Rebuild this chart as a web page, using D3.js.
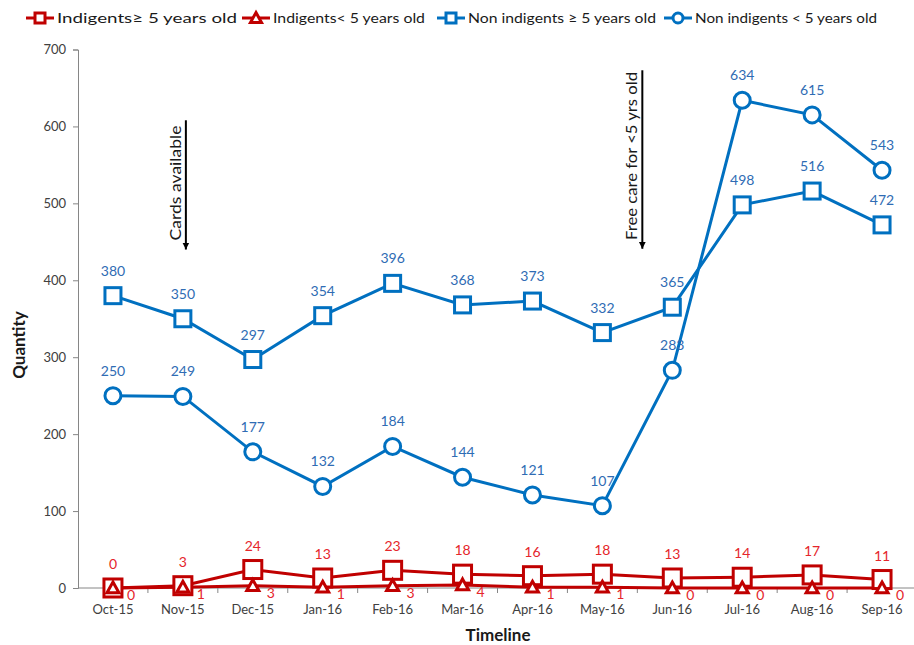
<!DOCTYPE html>
<html><head><meta charset="utf-8">
<script src="https://cdn.jsdelivr.net/npm/d3@7"></script>
<style>
body{margin:0;background:#fff;}
svg text{font-family:"Lato","Open Sans",sans-serif;}
</style></head>
<body><svg id="c" width="914" height="645"></svg>
<script>
const categories = ["Oct-15","Nov-15","Dec-15","Jan-16","Feb-16","Mar-16","Apr-16","May-16","Jun-16","Jul-16","Aug-16","Sep-16"];
const indigentsOver5 = [0,3,24,13,23,18,16,18,13,14,17,11];
const indigentsUnder5 = [0,1,3,1,3,4,1,1,0,0,0,0];
const nonIndigentsOver5 = [380,350,297,354,396,368,373,332,365,498,516,472];
const nonIndigentsUnder5 = [250,249,177,132,184,144,121,107,283,634,615,543];
const seriesNames = ["Indigents\u2265 5 years old","Indigents< 5 years old","Non indigents \u2265 5 years old","Non indigents < 5 years old"];
const yTicks = [0,100,200,300,400,500,600,700];
const annotations = [{cat:"Nov-15", text:"Cards available", from:608, to:440},{cat:"Jun-16", text:"Free care for <5 yrs old", from:673, to:441}];

const svg = d3.select("#c");
const red = "#C00000", blue = "#0070C0";
const redLbl = "#E5262B", blueLbl = "#2F6CB4";

const x = d3.scaleBand().domain(categories).range([78, 917]).padding(0);
const y = d3.scaleLinear().domain([0,700]).range([588, 49.5]);
const cx = c => x(c) + x.bandwidth()/2;

// axes
const yAxis = svg.append("g").attr("transform","translate(78,0)")
  .call(d3.axisLeft(y).tickValues(yTicks).tickSize(5).tickPadding(7));
yAxis.select(".domain").attr("stroke","#868686");
yAxis.selectAll(".tick line").attr("stroke","#868686");
yAxis.selectAll(".tick text").attr("fill","#404040").style("font-size","13px");

const xg = svg.append("g").attr("transform","translate(0,588)");
xg.append("line").attr("x1",78).attr("x2",914).attr("stroke","#868686");
xg.selectAll("line.t").data(categories.slice(1)).enter().append("line")
  .attr("x1",d=>x(d)).attr("x2",d=>x(d)).attr("y1",0).attr("y2",5).attr("stroke","#868686");
xg.selectAll("text").data(categories).enter().append("text")
  .attr("x",d=>cx(d)).attr("y",26).attr("text-anchor","middle")
  .attr("fill","#404040").style("font-size","13px").text(d=>d);

svg.append("text").attr("transform","translate(25,345) rotate(-90)").attr("text-anchor","middle")
  .style("font-size","17px").style("font-weight","bold").attr("fill","#1a1a1a").text("Quantity");
svg.append("text").attr("x",498).attr("y",641).attr("text-anchor","middle")
  .style("font-size","17px").style("font-weight","bold").attr("fill","#1a1a1a").text("Timeline");

// annotations
svg.append("defs").append("marker").attr("id","ah").attr("viewBox","0 0 10 10")
  .attr("refX",10).attr("refY",5).attr("markerWidth",7).attr("markerHeight",8)
  .attr("markerUnits","userSpaceOnUse").attr("orient","auto")
  .append("path").attr("d","M0,0L10,5L0,10z").attr("fill","#000");
const annoLen = [115, 168];
annotations.forEach((a,i)=>{
  const ax = i===0 ? cx(a.cat)+3 : x(a.cat)+5;
  svg.append("line").attr("x1",ax).attr("x2",ax).attr("y1",y(a.from)).attr("y2",y(a.to))
    .attr("stroke","#000").attr("stroke-width",2).attr("marker-end","url(#ah)");
  const mid = i===0 ? 183 : 156;
  svg.append("text").attr("transform",`translate(${ax-5},${mid}) rotate(-90)`)
    .attr("text-anchor","middle").style("font-size","15px").attr("fill","#1a1a1a")
    .attr("textLength",annoLen[i]).attr("lengthAdjust","spacingAndGlyphs").text(a.text);
});

// series
const series = [
  {vals:indigentsOver5, color:red, lbl:redLbl, shape:"square", size:18, lx:0, ly:-19},
  {vals:indigentsUnder5, color:red, lbl:redLbl, shape:"triangle", size:12, lx:18, ly:12},
  {vals:nonIndigentsOver5, color:blue, lbl:blueLbl, shape:"square", size:16, lx:0, ly:-20},
  {vals:nonIndigentsUnder5, color:blue, lbl:blueLbl, shape:"circle", size:16, lx:0, ly:-20}
];
const line = d3.line().x((d,i)=>cx(categories[i])).y(d=>y(d));
function drawMarker(g, shape, size, color){
  if(shape==="square"){
    g.append("rect").attr("x",-size/2).attr("y",-size/2).attr("width",size).attr("height",size)
      .attr("fill","#fff").attr("stroke",color).attr("stroke-width",3);
  } else if(shape==="circle"){
    g.append("circle").attr("r",size/2).attr("fill","#fff").attr("stroke",color).attr("stroke-width",3);
  } else {
    const s=size/2;
    g.append("path").attr("d",`M0,${-s}L${s},${s*0.8}L${-s},${s*0.8}Z`)
      .attr("fill","#fff").attr("stroke",color).attr("stroke-width",3).attr("stroke-linejoin","miter");
  }
}
series.forEach(s=>{
  svg.append("path").datum(s.vals).attr("d",line).attr("fill","none")
    .attr("stroke",s.color).attr("stroke-width",3);
});
series.forEach(s=>{
  s.vals.forEach((v,i)=>{
    const g = svg.append("g").attr("transform",`translate(${cx(categories[i])},${y(v)})`);
    drawMarker(g, s.shape, s.size, s.color);
  });
});
series.forEach(s=>{
  s.vals.forEach((v,i)=>{
    svg.append("text").attr("x",cx(categories[i])+s.lx).attr("y",y(v)+s.ly)
      .attr("text-anchor","middle").style("font-size","14px").attr("fill",s.lbl).text(v);
  });
});

// legend
const legendX = [26, 242, 437, 664];
const legendLen = [180, 152, 188, 182];
const shapes = [["square",red],["triangle",red],["square",blue],["circle",blue]];
seriesNames.forEach((n,i)=>{
  const g = svg.append("g").attr("transform",`translate(${legendX[i]},18)`);
  g.append("line").attr("x1",0).attr("x2",28).attr("stroke",shapes[i][1]).attr("stroke-width",3);
  drawMarker(g.append("g").attr("transform","translate(14,0)"), shapes[i][0], shapes[i][0]==="triangle"?11:10, shapes[i][1]);
  g.append("text").attr("x",31).attr("y",5).style("font-size","14px").attr("fill","#1a1a1a")
    .attr("textLength",legendLen[i]).attr("lengthAdjust","spacingAndGlyphs").text(n);
});
</script></body></html>
